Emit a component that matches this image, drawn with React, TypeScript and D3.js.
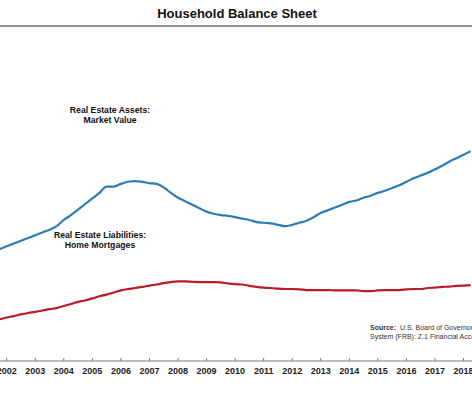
import React, { useEffect, useRef } from 'react'
import * as d3 from 'd3'

// quarterly, 2001 Q4 .. 2018 Q2 ($ trillions)
const startYear = 2001.75
const assets = [
  15.2, 15.6, 16.0, 16.4, 16.8, 17.2, 17.6, 18.0, 18.5, 19.4, 20.1, 20.9, 21.7, 22.5,
  23.3, 24.2, 24.2, 24.6, 24.9, 25.0, 24.9, 24.7, 24.6, 24.1, 23.3, 22.6, 22.1, 21.6,
  21.1, 20.6, 20.3, 20.1, 20.0, 19.8, 19.6, 19.4, 19.1, 19.0, 18.9, 18.7, 18.5, 18.7,
  19.0, 19.3, 19.8, 20.4, 20.8, 21.2, 21.6, 22.0, 22.2, 22.6, 22.9, 23.3, 23.6, 24.0,
  24.4, 24.9, 25.4, 25.8, 26.2, 26.7, 27.2, 27.8, 28.3, 28.8, 29.3,
]
const mortgages = [
  5.1, 5.35, 5.55, 5.8, 6.0, 6.15, 6.35, 6.55, 6.7, 7.0, 7.3, 7.6, 7.8, 8.1,
  8.4, 8.65, 8.95, 9.25, 9.45, 9.6, 9.75, 9.95, 10.1, 10.3, 10.45, 10.55, 10.55, 10.5,
  10.45, 10.45, 10.45, 10.4, 10.25, 10.15, 10.1, 9.9, 9.75, 9.65, 9.6, 9.5, 9.45, 9.45,
  9.4, 9.3, 9.3, 9.3, 9.3, 9.25, 9.25, 9.25, 9.25, 9.15, 9.15, 9.25, 9.3, 9.3,
  9.3, 9.4, 9.45, 9.45, 9.6, 9.65, 9.75, 9.8, 9.9, 9.95, 10.0,
]
const years = d3.range(2002, 2019)

const W = 472
const H = 394

function Chart() {
  const ref = useRef<SVGSVGElement>(null)

  useEffect(() => {
    const svg = d3.select(ref.current)
    svg.selectAll('*').remove()

    const x = d3.scaleLinear().domain([2002, 2018]).range([6.7, 463.5])
    const y = d3.scaleLinear().domain([0, 30]).range([354.6, 146.4])

    // title
    svg.append('text')
      .attr('x', 237).attr('y', 18)
      .attr('text-anchor', 'middle')
      .style('font-family', 'Liberation Sans, Arial, sans-serif')
      .style('font-weight', 'bold')
      .style('font-size', '13px')
      .style('fill', '#111')
      .text('Household Balance Sheet')
    svg.append('line')
      .attr('x1', 0).attr('x2', W).attr('y1', 26).attr('y2', 26)
      .style('stroke', '#6f6f6f').style('stroke-width', 1.5)

    // x axis
    const axis = svg.append('g')
    axis.append('line')
      .attr('x1', 0).attr('x2', W).attr('y1', 361).attr('y2', 361)
      .style('stroke', '#777').style('stroke-width', 1)
    axis.selectAll('.tick').data(years).enter().append('line')
      .attr('x1', d => x(d)).attr('x2', d => x(d))
      .attr('y1', 358).attr('y2', 361)
      .style('stroke', '#777')
    axis.selectAll('.lbl').data(years).enter().append('text')
      .attr('x', d => x(d)).attr('y', 373.5)
      .attr('text-anchor', 'middle')
      .style('font-family', 'Liberation Sans, Arial, sans-serif')
      .style('font-weight', 'bold')
      .style('font-size', '9px')
      .style('fill', '#222')
      .text(d => d)

    const line = d3.line<number>()
      .x((d, i) => x(startYear + i / 4))
      .y(d => y(d))
      .curve(d3.curveMonotoneX)

    svg.append('path')
      .datum(mortgages)
      .attr('d', line)
      .style('fill', 'none')
      .style('stroke', '#BC1A24')
      .style('stroke-width', 2.2)

    svg.append('path')
      .datum(assets)
      .attr('d', line)
      .style('fill', 'none')
      .style('stroke', '#2C7CB8')
      .style('stroke-width', 2.2)

    // series labels
    const label = (cx, lines, y0) => {
      lines.forEach((t, i) => {
        svg.append('text')
          .attr('x', cx).attr('y', y0 + i * 10.5)
          .attr('text-anchor', 'middle')
          .style('font-family', 'Liberation Sans, Arial, sans-serif')
          .style('font-weight', 'bold')
          .style('font-size', '8.7px')
          .style('fill', '#111')
          .text(t)
      })
    }
    label(110, ['Real Estate Assets:', 'Market Value'], 112.5)
    label(100, ['Real Estate Liabilities:', 'Home Mortgages'], 237.5)

    // source note
    const src = svg.append('text')
      .attr('x', 370).attr('y', 330)
      .style('font-family', 'Liberation Sans, Arial, sans-serif')
      .style('font-size', '7px')
      .style('fill', '#333')
    src.append('tspan').style('font-weight', 'bold').text('Source:')
    src.append('tspan').text('\u00a0 U.S. Board of Governors of the Federal Reserve')
    svg.append('text')
      .attr('x', 370).attr('y', 339)
      .style('font-family', 'Liberation Sans, Arial, sans-serif')
      .style('font-size', '7px')
      .style('fill', '#333')
      .text('System (FRB): Z.1 Financial Accounts of the United States')
  }, [])

  return (
    <svg ref={ref} width={W} height={H}
      style={{ position: 'absolute', left: 0, top: 0, background: '#fff' }} />
  )
}

export default function App() {
  return <Chart />
}
